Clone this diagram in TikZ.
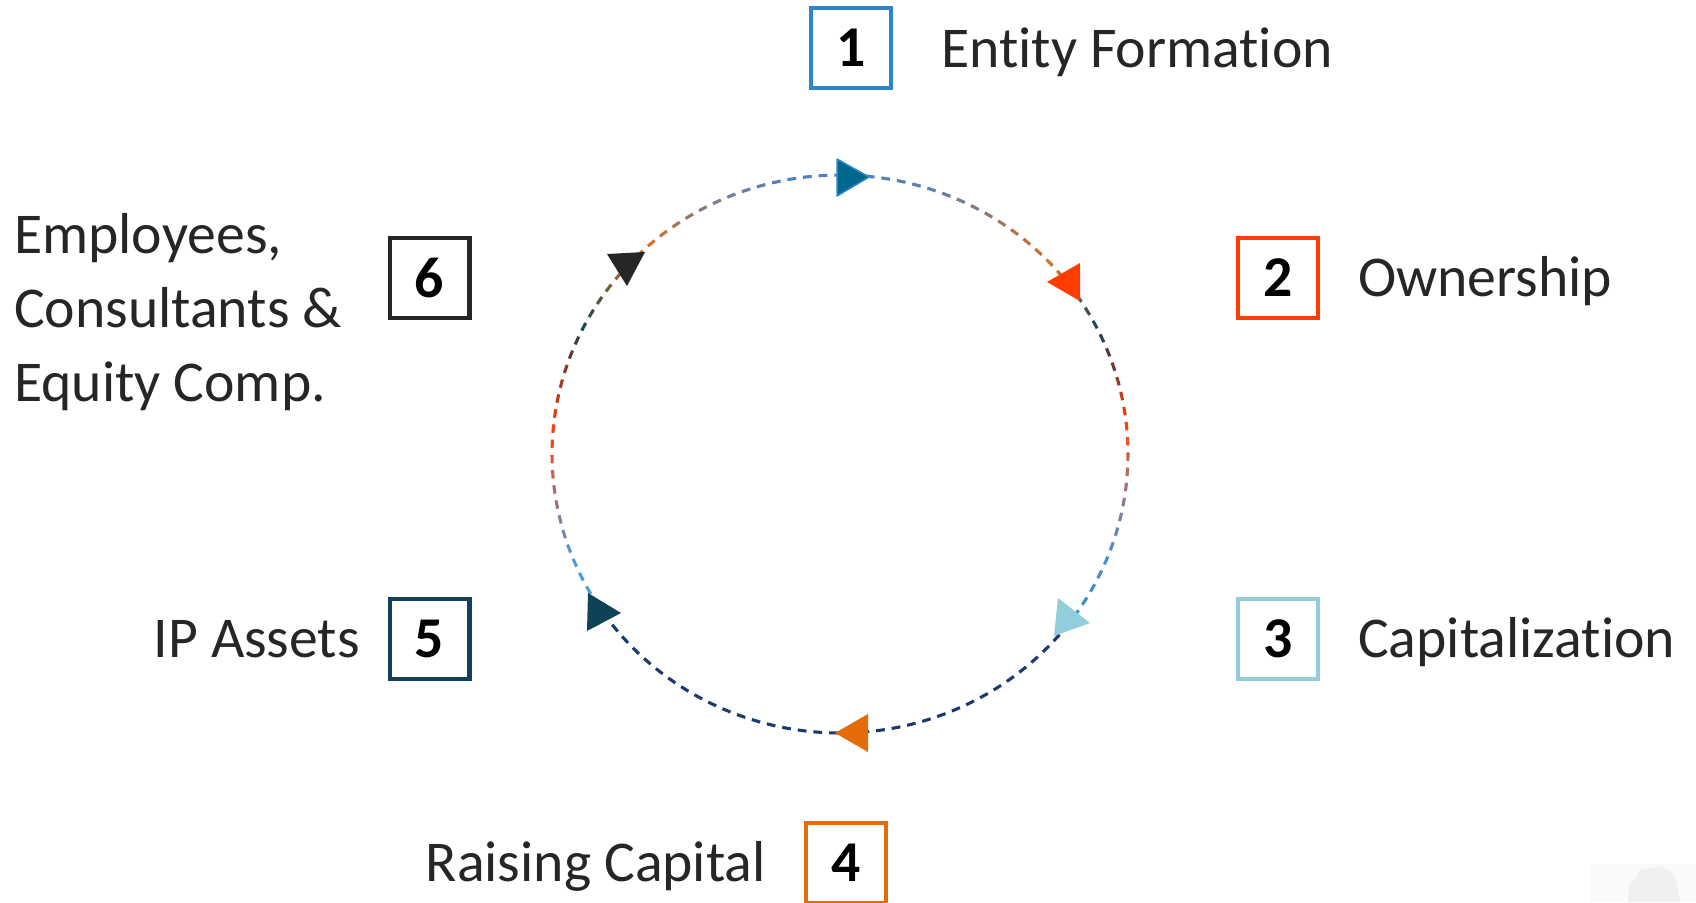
\documentclass[tikz,border=0pt]{standalone}
\usepackage{fontspec}
\setmainfont{Carlito}[Ligatures=NoCommon,RawFeature={-liga;-dlig;-calt}]
\definecolor{txt}{HTML}{262626}
\definecolor{b1}{HTML}{2E86C8}
\definecolor{b2}{HTML}{FF3D00}
\definecolor{b3}{HTML}{92CDDC}
\definecolor{b4}{HTML}{E36C09}
\definecolor{b5}{HTML}{10405A}
\definecolor{b6}{HTML}{262626}
\definecolor{t1}{HTML}{00688F}
\definecolor{t5}{HTML}{0E4256}
% dash gradient colours
\definecolor{g00}{HTML}{4F81BD}
\definecolor{g01}{HTML}{5A7FB5}
\definecolor{g02}{HTML}{8A7A7A}
\definecolor{g03}{HTML}{C0703A}
\definecolor{g04}{HTML}{D87428}
\definecolor{g05}{HTML}{555A40}
\definecolor{g06}{HTML}{1A4658}
\definecolor{g07}{HTML}{6A3530}
\definecolor{g08}{HTML}{B03A20}
\definecolor{g09}{HTML}{FF3D00}
\definecolor{g10}{HTML}{D0604A}
\definecolor{g11}{HTML}{A07088}
\definecolor{g12}{HTML}{7088B0}
\definecolor{g13}{HTML}{4A90D0}
\definecolor{g14}{HTML}{3A8ECF}
\definecolor{nav}{HTML}{1C3A72}
\definecolor{g16}{HTML}{4AA2DC}
\definecolor{g17}{HTML}{5A98D0}
\definecolor{g18}{HTML}{7A88A8}
\definecolor{g19}{HTML}{A07080}
\definecolor{g20}{HTML}{C8604F}
\definecolor{g21}{HTML}{9A3A28}
\definecolor{g22}{HTML}{5A3A38}
\definecolor{g23}{HTML}{B07048}
\definecolor{g24}{HTML}{8E7A78}
\definecolor{g25}{HTML}{707EA8}
\definecolor{g26}{HTML}{5080C0}
\tikzset{
  numbox/.style={draw, line width=4.3pt, minimum width=79.7pt, minimum height=79.7pt,
    inner sep=0pt, font=\fontsize{57.7}{70}\selectfont\bfseries, text=black},
  lbl/.style={font=\fontsize{57.7}{72}\selectfont, text=txt, inner sep=0pt},
  dsh/.style={line width=3.1pt},
}
\begin{document}
\begin{tikzpicture}[x=1pt,y=-1pt]
\useasboundingbox (0,0) rectangle (1696,902);
\fill[white] (0,0) rectangle (1696,902);
% faint watermark
\fill[gray!4] (1590,864) rectangle (1696,902);
\fill[gray!12] (1628,902) -- (1629,884) -- (1636,878) -- (1640,870) -- (1662,866) -- (1672,873) -- (1676,880) -- (1680,902) -- cycle;
% dashed gradient circle
\def\cx{840}\def\cy{454}\def\rx{288}\def\ry{279}
\pgfmathsetmacro\st{360/115}
\def\thz{-88}
\foreach \a/\b/\ca/\cb in {-95/-72/g00/g01,-72/-61/g01/g02,-61/-50/g02/g03,-50/-42/g03/g04,
  -42/-35/g04/g05,-35/-27/g05/g06,-27/-20/g06/g07,-20/-14/g07/g08,-14/-8/g08/g09,
  -8/-1/g09/g10,-1/7/g10/g11,7/14/g11/g12,14/21/g12/g13,21/34/g13/g14,34/40/g14/nav,
  40/142/nav/nav,142/148/nav/g16,148/158/g16/g17,158/164/g17/g18,164/170/g18/g19,
  170/176/g19/g20,176/185/g20/g09,185/195/g09/g21,195/201/g21/g22,201/206/g22/g06,
  206/213/g06/g05,213/227/g05/g04,227/234/g04/g23,234/240/g23/g24,240/248/g24/g25,
  248/258/g25/g26,258/275/g26/g00}{
  \foreach \k in {0,...,114}{
    \pgfmathsetmacro\th{\thz+\k*\st}
    \pgfmathtruncatemacro\ins{(\th<\a)?0:((\th<\b)?1:0)}
    \ifnum\ins=1
      \pgfmathtruncatemacro\p{100*(\b-\th)/(\b-\a)}
      \pgfmathsetmacro\te{\th+1.75}
      \draw[dsh,draw=\ca!\p!\cb] ({\cx+\rx*cos(\th)},{\cy+\ry*sin(\th)}) -- ({\cx+\rx*cos(\te)},{\cy+\ry*sin(\te)});
    \fi
  }
}
% arrowheads on the cycle
\filldraw[fill=t1, draw=b1, line width=1.5pt, line join=round] (837,159) -- (869,177) -- (837,196) -- cycle;
\fill[b2] (1047,282) -- (1080,263) -- (1080,301) -- cycle;
\fill[b3] (1058,598) -- (1090,623) -- (1054,636) -- cycle;
\fill[b4] (835,733) -- (868,714) -- (868,752) -- cycle;
\fill[t5] (588,593) -- (621,613) -- (587,631) -- cycle;
\fill[b6] (607,254) -- (645,252) -- (627,286) -- cycle;
% numbered boxes
\node[numbox, draw=b1] (n1) at (851,48) {1};
\node[numbox, draw=b2] (n2) at (1278,278) {2};
\node[numbox, draw=b3] (n3) at (1278,639) {3};
\node[numbox, draw=b4] (n4) at (846,863) {4};
\node[numbox, draw=b5] (n5) at (429.5,639) {5};
\node[numbox, draw=b6] (n6) at (429.5,278) {6};
% labels
\node[lbl, anchor=base west] (l1) at (941,67) {Entity Formation};
\node[lbl, anchor=base west] (l2) at (1358,296.6) {Ownership};
\node[lbl, anchor=base west] (l3) at (1358,657.6) {Capitalization};
\node[lbl, anchor=base east] (l4) at (766,881.6) {Raising Capital};
\node[lbl, anchor=base east] (l5) at (360,657.6) {IP Assets};
\node[lbl, anchor=base west] (l6a) at (14,253) {Employees,};
\node[lbl, anchor=base west] (l6b) at (14,327) {Consultants \&};
\node[lbl, anchor=base west] (l6c) at (14,401) {Equity Comp.};
\end{tikzpicture}
\end{document}
